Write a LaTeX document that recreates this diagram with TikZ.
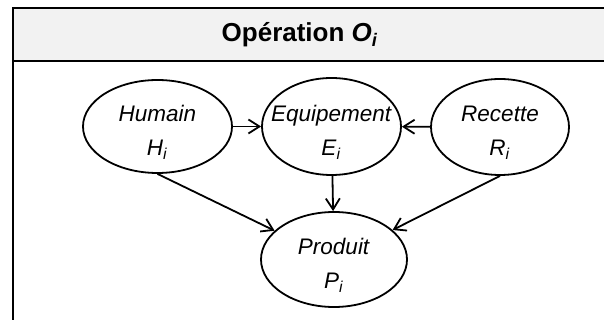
\documentclass[tikz,border=0pt]{standalone}
\usepackage{fontspec}
\setmainfont{Liberation Sans}
\usetikzlibrary{shapes.geometric,arrows.meta}
\definecolor{grisclair}{HTML}{F2F2F2}
\newcommand{\ivar}[1]{\textit{#1}\textsubscript{\textit{i}}}
\tikzset{
  etat/.style={draw, ellipse, line width=0.9pt, inner sep=0pt},
  texte/.style={align=center, yshift=-3pt, font=\fontsize{11.25}{17}\selectfont},
  fleche/.style={-{Straight Barb[length=5.5pt,width=7pt]}, line width=0.9pt}
}
\begin{document}
\begin{tikzpicture}[x=0.5pt,y=-0.5pt]
    \useasboundingbox (0,0) rectangle (604,320);
    \clip (0,0) rectangle (604,320);

    % cadre et bandeau du titre
    \fill[grisclair] (12.5,8.5) rectangle (640,61);
    \draw[line width=1pt] (12.5,340) -- (12.5,8.5) -- (640,8.5);
    \draw[line width=1pt] (12.5,61) -- (640,61);
    \node[font=\fontsize{13}{15}\selectfont\bfseries] (titre) at (300,35) {Opération \ivar{O}};

    \node[etat, minimum width=74.5pt, minimum height=46.5pt,
      label={[texte]center:{\textit{Humain}\\\ivar{H}}}] (hum) at (157.5,126.5) {};
    \node[etat, minimum width=69.5pt, minimum height=48.5pt,
      label={[texte]center:{\textit{Equipement}\\\ivar{E}}}] (equ) at (331.5,126.5) {};
    \node[etat, minimum width=69pt, minimum height=48pt,
      label={[texte]center:{\textit{Recette}\\\ivar{R}}}] (rec) at (500,127) {};
    \node[etat, minimum width=73pt, minimum height=47.5pt,
      label={[texte]center:{\textit{Produit}\\\ivar{P}}}] (prod) at (334,259.5) {};

    \draw[fleche] (hum) -- (equ);
    \draw[fleche] (rec) -- (equ);
    \draw[fleche] (equ) -- (prod);
    \draw[fleche] (hum.south) -- (prod);
    \draw[fleche] (rec.south) -- (prod);
\end{tikzpicture}
\end{document}
